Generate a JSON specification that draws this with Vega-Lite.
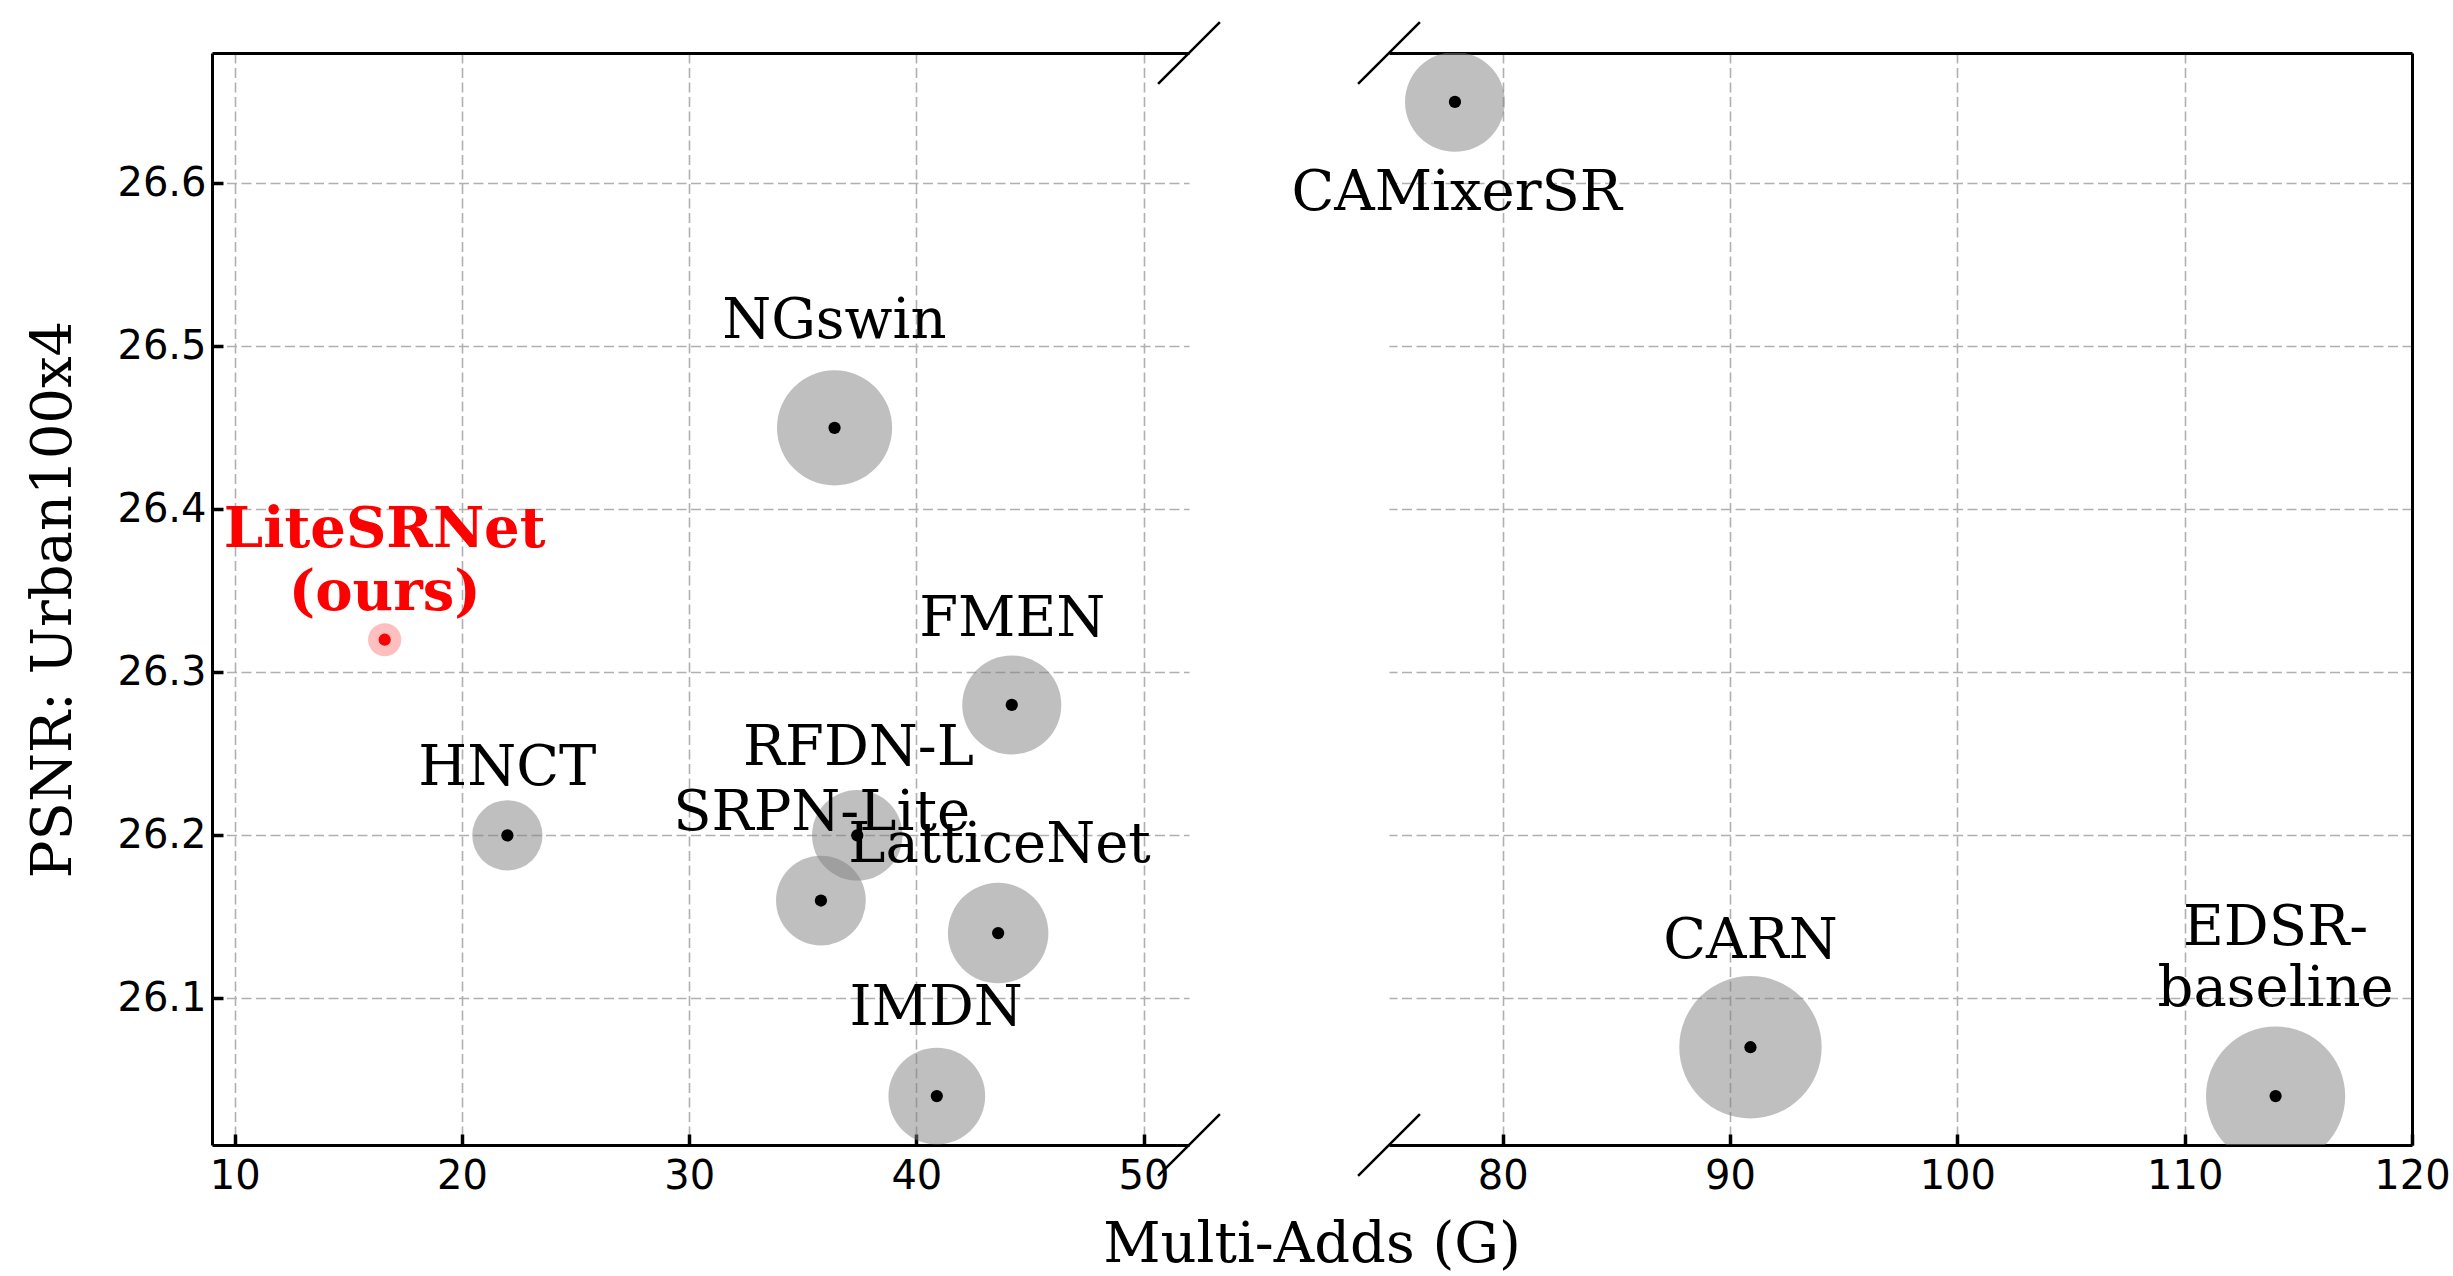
{
  "$schema": "https://vega.github.io/schema/vega-lite/v6.json",
  "autosize": {"type": "pad"},
  "padding": {"left": 25, "top": 20, "right": 0, "bottom": 0},
  "background": "white",
  "bounds": "flush",
  "spacing": 200,
  "config": {
    "view": {"stroke": null},
    "axis": {
      "domainColor": "black", "domainWidth": 3,
      "tickColor": "black", "tickWidth": 3.5, "tickSize": -11,
      "labelFont": "DejaVu Sans", "labelFontSize": 40, "labelColor": "black", "labelFlush": false, "labelOverlap": false,
      "gridColor": "#b0b0b0", "gridDash": [10, 4.5], "gridWidth": 1.6,
      "titleFont": "DejaVu Serif", "titleFontSize": 56, "titleFontWeight": "normal", "titleColor": "black"
    },
    "axisX": {"labelPadding": 22},
    "axisY": {"labelPadding": 17}
  },
  "datasets": {
    "methods": [
      {"method": "LiteSRNet", "label": "LiteSRNet\n(ours)", "madds": 16.6, "psnr": 26.32, "params": 85, "group": "ours", "panel": "left", "lx": 16.6, "ly": 26.377},
      {"method": "HNCT", "label": "HNCT", "madds": 22.0, "psnr": 26.20, "params": 380, "group": "other", "panel": "left", "lx": 22.0, "ly": 26.231},
      {"method": "RFDN-L", "label": "RFDN-L", "madds": 37.4, "psnr": 26.20, "params": 630, "group": "other", "panel": "left", "lx": 37.45, "ly": 26.243},
      {"method": "SRPN-Lite", "label": "SRPN-Lite", "madds": 35.8, "psnr": 26.16, "params": 620, "group": "other", "panel": "left", "lx": 35.83, "ly": 26.2034},
      {"method": "NGswin", "label": "NGswin", "madds": 36.4, "psnr": 26.45, "params": 1020, "group": "other", "panel": "left", "lx": 36.39, "ly": 26.505},
      {"method": "LatticeNet", "label": "LatticeNet", "madds": 43.6, "psnr": 26.14, "params": 777, "group": "other", "panel": "left", "lx": 43.66, "ly": 26.1836},
      {"method": "IMDN", "label": "IMDN", "madds": 40.9, "psnr": 26.04, "params": 720, "group": "other", "panel": "left", "lx": 40.87, "ly": 26.0834},
      {"method": "FMEN", "label": "FMEN", "madds": 44.2, "psnr": 26.28, "params": 755, "group": "other", "panel": "left", "lx": 44.22, "ly": 26.322},
      {"method": "CAMixerSR", "label": "CAMixerSR", "madds": 77.9, "psnr": 26.65, "params": 766, "group": "other", "panel": "right", "lx": 77.98, "ly": 26.5837},
      {"method": "CARN", "label": "CARN", "madds": 90.9, "psnr": 26.07, "params": 1560, "group": "other", "panel": "right", "lx": 90.9, "ly": 26.1247},
      {"method": "EDSR-baseline", "label": "EDSR-\nbaseline", "madds": 114.0, "psnr": 26.04, "params": 1490, "group": "other", "panel": "right", "lx": 114.0, "ly": 26.1329}
    ],
    "breaks": [
      {"panel": "left", "bx1": 50.64, "bx2": 53.36, "by1": 26.661, "by2": 26.699},
      {"panel": "left", "bx1": 50.64, "bx2": 53.36, "by1": 25.991, "by2": 26.029},
      {"panel": "right", "bx1": 73.64, "bx2": 76.36, "by1": 26.661, "by2": 26.699},
      {"panel": "right", "bx1": 73.64, "bx2": 76.36, "by1": 25.991, "by2": 26.029}
    ]
  },
  "hconcat": [
    {
      "width": 977,
      "height": 1092,
      "layer": [
        {
          "data": {"name": "methods"},
          "transform": [{"filter": "datum.panel === 'left'"}],
          "mark": {"type": "circle", "clip": true, "strokeWidth": 0},
          "encoding": {
            "x": {"field": "madds", "type": "quantitative",
              "scale": {"domain": [9, 52], "nice": false, "zero": false},
              "axis": {"orient": "bottom", "values": [10, 20, 30, 40, 50], "grid": true,
                "title": "Multi-Adds (G)", "titleX": 1099.5, "titleY": 116, "titleBaseline": "alphabetic", "titleAlign": "center", "titleAngle": 0}},
            "y": {"field": "psnr", "type": "quantitative",
              "scale": {"domain": [26.01, 26.68], "nice": false, "zero": false},
              "axis": {"orient": "left", "values": [26.1, 26.2, 26.3, 26.4, 26.5, 26.6], "format": ".1f", "grid": true, "domain": true, "ticks": true, "labels": true,
                "title": "PSNR: Urban100x4", "titleX": -142, "titleY": 546, "titleAngle": -90, "titleBaseline": "alphabetic", "titleAlign": "center"}},
            "size": {"field": "params", "type": "quantitative", "scale": {"domain": [0, 1600], "range": [0, 20800]}, "legend": null},
            "color": {"condition": {"test": "datum.group === 'ours'", "value": "#ff0000"}, "value": "#808080"},
            "opacity": {"condition": {"test": "datum.group === 'ours'", "value": 0.25}, "value": 0.5}
          }
        },
        {
          "data": {"name": "methods"},
          "transform": [{"filter": "datum.panel === 'left'"}],
          "mark": {"type": "circle", "size": 150, "opacity": 1, "clip": true},
          "encoding": {
            "x": {"field": "madds", "type": "quantitative",
              "scale": {"domain": [9, 52], "nice": false, "zero": false},
              "axis": {"orient": "top", "domain": true, "ticks": false, "labels": false, "grid": false, "title": null}},
            "y": {"field": "psnr", "type": "quantitative", "scale": {"domain": [26.01, 26.68], "nice": false, "zero": false}},
            "color": {"condition": {"test": "datum.group === 'ours'", "value": "#ff0000"}, "value": "#000000"}
          }
        },
        {
          "data": {"name": "methods"},
          "transform": [{"filter": "datum.panel === 'left' && datum.group === 'other'"}],
          "mark": {"type": "text", "font": "DejaVu Serif", "fontSize": 56, "align": "center", "baseline": "alphabetic", "lineBreak": "\n", "lineHeight": 61, "color": "black"},
          "encoding": {
            "x": {"field": "lx", "type": "quantitative", "scale": {"domain": [9, 52], "nice": false, "zero": false}, "axis": null},
            "y": {"field": "ly", "type": "quantitative", "scale": {"domain": [26.01, 26.68], "nice": false, "zero": false}},
            "text": {"field": "label"}
          }
        },
        {
          "data": {"name": "methods"},
          "transform": [{"filter": "datum.group === 'ours'"}],
          "mark": {"type": "text", "font": "DejaVu Serif", "fontSize": 56, "fontWeight": "bold", "align": "center", "baseline": "alphabetic", "lineBreak": "\n", "lineHeight": 63, "color": "#ff0000"},
          "encoding": {
            "x": {"field": "lx", "type": "quantitative", "scale": {"domain": [9, 52], "nice": false, "zero": false}, "axis": null},
            "y": {"field": "ly", "type": "quantitative", "scale": {"domain": [26.01, 26.68], "nice": false, "zero": false}},
            "text": {"field": "label"}
          }
        },
        {
          "data": {"name": "breaks"},
          "transform": [{"filter": "datum.panel === 'left'"}],
          "mark": {"type": "rule", "color": "black", "strokeWidth": 2.5, "clip": false},
          "encoding": {
            "x": {"field": "bx1", "type": "quantitative", "scale": {"domain": [9, 52], "nice": false, "zero": false}, "axis": null},
            "x2": {"field": "bx2"},
            "y": {"field": "by1", "type": "quantitative", "scale": {"domain": [26.01, 26.68], "nice": false, "zero": false}},
            "y2": {"field": "by2"}
          }
        }
      ]
    },
    {
      "width": 1023,
      "height": 1092,
      "layer": [
        {
          "data": {"name": "methods"},
          "transform": [{"filter": "datum.panel === 'right'"}],
          "mark": {"type": "circle", "clip": true, "strokeWidth": 0},
          "encoding": {
            "x": {"field": "madds", "type": "quantitative",
              "scale": {"domain": [75, 120], "nice": false, "zero": false},
              "axis": {"orient": "bottom", "values": [80, 90, 100, 110, 120], "grid": true, "title": null}},
            "y": {"field": "psnr", "type": "quantitative",
              "scale": {"domain": [26.01, 26.68], "nice": false, "zero": false},
              "axis": {"orient": "right", "values": [26.1, 26.2, 26.3, 26.4, 26.5, 26.6], "grid": true, "domain": true, "ticks": false, "labels": false, "title": null}},
            "size": {"field": "params", "type": "quantitative", "scale": {"domain": [0, 1600], "range": [0, 20800]}, "legend": null},
            "color": {"condition": {"test": "datum.group === 'ours'", "value": "#ff0000"}, "value": "#808080"},
            "opacity": {"condition": {"test": "datum.group === 'ours'", "value": 0.25}, "value": 0.5}
          }
        },
        {
          "data": {"name": "methods"},
          "transform": [{"filter": "datum.panel === 'right'"}],
          "mark": {"type": "circle", "size": 150, "opacity": 1, "clip": true},
          "encoding": {
            "x": {"field": "madds", "type": "quantitative",
              "scale": {"domain": [75, 120], "nice": false, "zero": false},
              "axis": {"orient": "top", "domain": true, "ticks": false, "labels": false, "grid": false, "title": null}},
            "y": {"field": "psnr", "type": "quantitative", "scale": {"domain": [26.01, 26.68], "nice": false, "zero": false}},
            "color": {"value": "#000000"}
          }
        },
        {
          "data": {"name": "methods"},
          "transform": [{"filter": "datum.panel === 'right'"}],
          "mark": {"type": "text", "font": "DejaVu Serif", "fontSize": 56, "align": "center", "baseline": "alphabetic", "lineBreak": "\n", "lineHeight": 61, "color": "black"},
          "encoding": {
            "x": {"field": "lx", "type": "quantitative", "scale": {"domain": [75, 120], "nice": false, "zero": false}, "axis": null},
            "y": {"field": "ly", "type": "quantitative", "scale": {"domain": [26.01, 26.68], "nice": false, "zero": false}},
            "text": {"field": "label"}
          }
        },
        {
          "data": {"name": "breaks"},
          "transform": [{"filter": "datum.panel === 'right'"}],
          "mark": {"type": "rule", "color": "black", "strokeWidth": 2.5, "clip": false},
          "encoding": {
            "x": {"field": "bx1", "type": "quantitative", "scale": {"domain": [75, 120], "nice": false, "zero": false}, "axis": null},
            "x2": {"field": "bx2"},
            "y": {"field": "by1", "type": "quantitative", "scale": {"domain": [26.01, 26.68], "nice": false, "zero": false}},
            "y2": {"field": "by2"}
          }
        }
      ]
    }
  ]
}
